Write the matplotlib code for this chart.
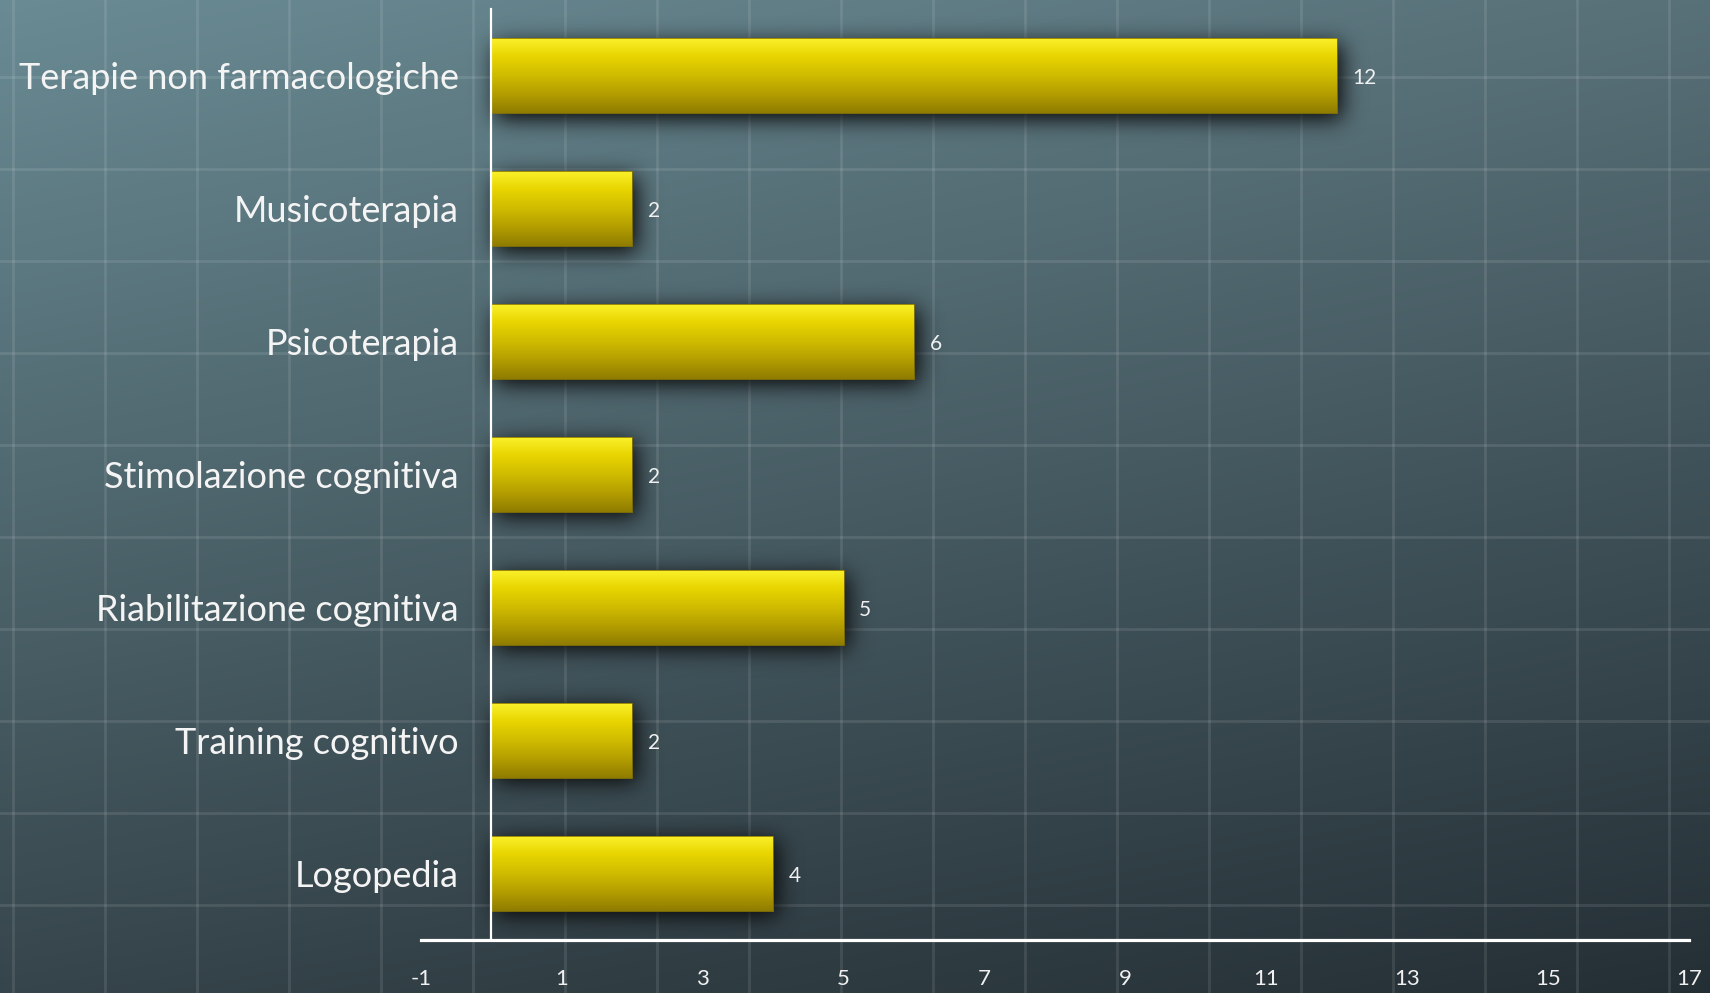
import matplotlib.pyplot as plt
import numpy as np
from matplotlib.colors import LinearSegmentedColormap

categories = ["Terapie non farmacologiche", "Musicoterapia", "Psicoterapia",
              "Stimolazione cognitiva", "Riabilitazione cognitiva",
              "Training cognitivo", "Logopedia"]
values = [12, 2, 6, 2, 5, 2, 4]
xticks = [-1, 1, 3, 5, 7, 9, 11, 13, 15, 17]

W, H, DPI = 1710, 993, 100
plt.rcParams['font.family'] = ['Lato', 'DejaVu Sans']


def blur(a, sig, axis):
    # separable gaussian, sig in array cells
    r = int(3 * sig) + 1
    k = np.exp(-0.5 * (np.arange(-r, r + 1) / sig) ** 2)
    k /= k.sum()
    return np.apply_along_axis(lambda m: np.convolve(m, k, mode='same'), axis, a)


fig = plt.figure(figsize=(W / DPI, H / DPI), dpi=DPI)

# backdrop: shaded slate board with a faint square grid
bg = fig.add_axes([0, 0, 1, 1])
bg.set_xlim(0, W)
bg.set_ylim(H, 0)
bg.axis('off')
corners = np.array([[[106, 139, 148], [88, 112, 120]],
                    [[54, 69, 75], [36, 47, 53]]]) / 255.
u = np.linspace(0, 1, W)[None, :, None]
v = np.linspace(0, 1, H)[:, None, None]
board = (corners[0, 0] * (1 - u) * (1 - v) + corners[0, 1] * u * (1 - v)
         + corners[1, 0] * (1 - u) * v + corners[1, 1] * u * v)
bg.imshow(board, extent=(0, W, H, 0), aspect='auto', interpolation='bilinear')
for gx in np.arange(13, W, 92):
    bg.axvline(gx, color='white', alpha=0.1, lw=2.0)
for gy in np.arange(77, H, 92):
    bg.axhline(gy, color='white', alpha=0.1, lw=2.0)

# chart area
ax = fig.add_axes([421 / W, (H - 940) / H, (1689 - 421) / W, (940 - 9) / H])
ax.patch.set_alpha(0)
ypos = np.arange(len(categories))
bars = ax.barh(ypos, values, height=0.565, facecolor='none',
               edgecolor='#8a7800', lw=0.6, zorder=4)

# soft drop shadow under the bars
nx, ny = 900, 660
gxs = np.linspace(-1, 17, nx)
gys = np.linspace(-0.5, len(categories) - 0.5, ny)
px_x = 1268 / nx
px_y = 931 / ny
dx, dy = 4 / 70.4, 5 / 133.
mask = np.zeros((ny, nx))
for b in bars:
    x0, y0, w, h = b.get_x(), b.get_y(), b.get_width(), b.get_height()
    rows = (gys >= y0 + dy) & (gys <= y0 + h + dy)
    cols = (gxs >= x0 + dx) & (gxs <= x0 + w + dx)
    mask[np.ix_(rows, cols)] = 1
mask = blur(blur(mask, 11 / px_x, 1), 11 / px_y, 0)
shadow = np.zeros((ny, nx, 4))
shadow[..., :3] = 0.04
shadow[..., 3] = np.clip(mask * 1.05, 0, 0.92)
ax.imshow(shadow, extent=(-1, 17, -0.5, len(categories) - 0.5), origin='lower',
          aspect='auto', interpolation='bilinear', zorder=2)

# vertical yellow gradient inside each bar
bar_cmap = LinearSegmentedColormap.from_list(
    'gold', ['#fbf22e', '#e8d500', '#d0bc00', '#b39e00', '#8f7c00'])
grad = np.linspace(0, 1, 256)[:, None]
for b, val in zip(bars, values):
    x0, y0, w, h = b.get_x(), b.get_y(), b.get_width(), b.get_height()
    im = ax.imshow(grad, cmap=bar_cmap, extent=(x0, x0 + w, y0 + h, y0),
                   origin='upper', aspect='auto', zorder=3)
    im.set_clip_path(b)
    ax.annotate(str(val), xy=(x0 + w, y0 + h / 2), xytext=(11, -2),
                textcoords='offset points', ha='left', va='center',
                fontsize=15, color='#f0f0f0', zorder=5)

ax.set_xlim(-1, 17)
ax.set_ylim(len(categories) - 0.5, -0.5)

for s in ['top', 'right']:
    ax.spines[s].set_visible(False)
ax.spines['left'].set_position(('data', 0))
ax.spines['left'].set_color('white')
ax.spines['left'].set_linewidth(1.6)
ax.spines['left'].set_zorder(6)
ax.spines['bottom'].set_color('white')
ax.spines['bottom'].set_linewidth(2.3)

ax.set_xticks(xticks)
ax.set_xticklabels([str(t) for t in xticks], fontsize=16, color='#f0f0f0')
ax.set_yticks(ypos)
ax.set_yticklabels(categories, fontsize=26, color='#f4f4f4')
ax.tick_params(axis='x', length=0, pad=21)
ax.tick_params(axis='y', length=0, pad=23.5)

fig.savefig('out.png', dpi=DPI)
